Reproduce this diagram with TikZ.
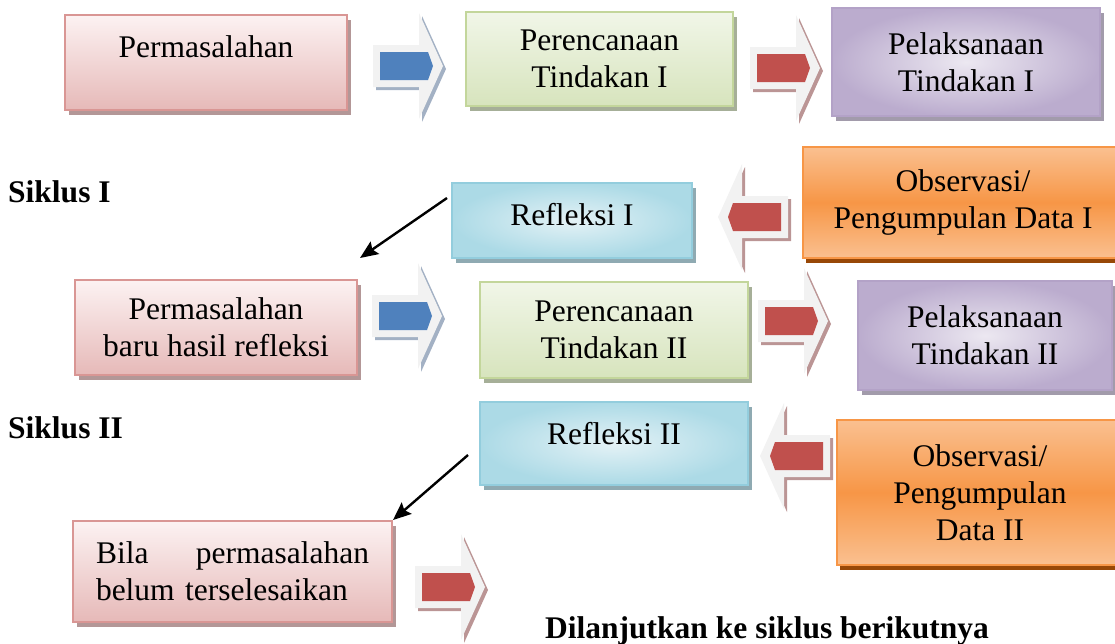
\documentclass[tikz,border=0pt]{standalone}
\usepackage{fontspec}
\setmainfont{Liberation Serif}
\usetikzlibrary{arrows.meta,shadows}
\definecolor{pinkline}{HTML}{D99694}
\definecolor{pinktop}{HTML}{FCF2F2}
\definecolor{pinkbot}{HTML}{E6B9B8}
\definecolor{pinkshadow}{HTML}{B39797}
\definecolor{greenline}{HTML}{C3D69B}
\definecolor{greentop}{HTML}{F1F6E8}
\definecolor{greenbot}{HTML}{D7E4BD}
\definecolor{greenshadow}{HTML}{A6AF98}
\definecolor{purpline}{HTML}{B3A2C7}
\definecolor{purpin}{HTML}{ECE8F1}
\definecolor{purpout}{HTML}{BBACCE}
\definecolor{purpshadow}{HTML}{A29BAB}
\definecolor{cyanline}{HTML}{93CDDD}
\definecolor{cyanin}{HTML}{E4F2F6}
\definecolor{cyanout}{HTML}{ACDAE6}
\definecolor{cyanshadow}{HTML}{8FAAB2}
\definecolor{orangeline}{HTML}{F79646}
\definecolor{orangelight}{HTML}{FAC090}
\definecolor{orangeshadow}{HTML}{984807}
\definecolor{arrowgray}{HTML}{F2F2F2}
\definecolor{arrowblue}{HTML}{4F81BD}
\definecolor{arrowred}{HTML}{C0504D}
\definecolor{blueshadow}{HTML}{A3B1C4}
\definecolor{redshadow}{HTML}{BB9595}
\begin{document}
\begin{tikzpicture}[x=1pt,y=-1pt,
  box/.style={draw,line width=2pt,inner sep=0pt,align=center,
    font=\fontsize{31.5pt}{37pt}\selectfont},
  pinkbox/.style={box,draw=pinkline,top color=pinktop,bottom color=pinkbot,
    drop shadow={shadow xshift=4pt,shadow yshift=-5pt,opacity=1,fill=pinkshadow}},
  greenbox/.style={box,draw=greenline,top color=greentop,bottom color=greenbot,
    drop shadow={shadow xshift=4pt,shadow yshift=-5pt,opacity=1,fill=greenshadow}},
  purplebox/.style={box,draw=purpline,inner color=purpin,outer color=purpout,
    drop shadow={shadow xshift=4pt,shadow yshift=-5pt,opacity=1,fill=purpshadow}},
  cyanbox/.style={box,draw=cyanline,inner color=cyanin,outer color=cyanout,
    drop shadow={shadow xshift=4pt,shadow yshift=-5pt,opacity=1,fill=cyanshadow}},
  orangebox/.style={box,draw=orangeline,top color=orangelight,bottom color=orangelight,
    middle color=orangeline,
    drop shadow={shadow xshift=3pt,shadow yshift=-5pt,opacity=1,fill=orangeshadow}},
  link/.style={-{Stealth[length=18pt,width=15pt,inset=3pt]},line width=2.4pt},
  siklus/.style={anchor=base west,inner sep=0pt,
    font=\fontsize{31.5pt}{37pt}\selectfont\bfseries},
  pics/blockarrow/.style n args={3}{code={
    \fill[#3,shift={(3,3)},xscale=#1] (0,-21) -- (46,-21) -- (46,-53) -- (70,0)
      -- (46,53) -- (46,21) -- (0,21) -- cycle;
    \fill[arrowgray,xscale=#1] (0,-21) -- (46,-21) -- (46,-53) -- (70,0)
      -- (46,53) -- (46,21) -- (0,21) -- cycle;
    \fill[#2,xscale=#1] (7,-14) -- (55,-14) -- (60,0) -- (55,14) -- (7,14) -- cycle;
  }}]
\useasboundingbox (0,0) rectangle (1115,643);

% siklus I
\node[pinkbox,minimum width=282pt,minimum height=95pt,text height=22pt,text depth=33pt]
  (perm1) at (206,62.5) {Permasalahan};
\node[greenbox,minimum width=267pt,minimum height=94pt]
  (plan1) at (599.5,59) {Perencanaan\\Tindakan I};
\node[purplebox,minimum width=268pt,minimum height=108pt]
  (act1) at (966,62) {Pelaksanaan\\Tindakan I};
\node[orangebox,minimum width=320pt,minimum height=111pt]
  (obs1) at (963,202.5) {Observasi/\\Pengumpulan Data I};
\node[cyanbox,minimum width=240pt,minimum height=75pt,text height=22pt,text depth=13pt]
  (refl1) at (572,220.5) {Refleksi I};
\pic at (373,66) {blockarrow={1}{arrowblue}{blueshadow}};
\pic at (750,68) {blockarrow={1}{arrowred}{redshadow}};
\pic at (788,217) {blockarrow={-1}{arrowred}{redshadow}};
\node[siklus] (sik1) at (8,202) {Siklus I};

% siklus II
\node[pinkbox,minimum width=282pt,minimum height=95pt]
  (perm2) at (216,327.5) {Permasalahan\\baru hasil refleksi};
\node[greenbox,minimum width=268pt,minimum height=96pt]
  (plan2) at (614,330) {Perencanaan\\Tindakan II};
\node[purplebox,minimum width=254pt,minimum height=109pt]
  (act2) at (985,335.5) {Pelaksanaan\\Tindakan II};
\node[orangebox,minimum width=286pt,minimum height=145pt]
  (obs2) at (980,492.5) {Observasi/\\Pengumpulan\\Data II};
\node[cyanbox,minimum width=268pt,minimum height=83pt,text height=22pt,text depth=21pt]
  (refl2) at (614,443.5) {Refleksi II};
\pic at (372,316) {blockarrow={1}{arrowblue}{blueshadow}};
\pic at (758,321) {blockarrow={1}{arrowred}{redshadow}};
\pic at (830,456) {blockarrow={-1}{arrowred}{redshadow}};
\node[siklus] (sik2) at (8,438) {Siklus II};

% lanjut
\node[pinkbox,minimum width=319pt,minimum height=101pt,text width=273pt,align=left]
  (bila) at (232.5,571.5) {Bila\hfill permasalahan\\belum terselesaikan};
\pic at (415,587) {blockarrow={1}{arrowred}{redshadow}};
\node[siklus] (next) at (545,638) {Dilanjutkan ke siklus berikutnya};

\coordinate (s1) at (447,198);
\coordinate (e1) at (360,258);
\draw[link] (s1) -- (e1);
\coordinate (s2) at (468,455);
\draw[link] (s2) -- (bila.north east);
\end{tikzpicture}
\end{document}
